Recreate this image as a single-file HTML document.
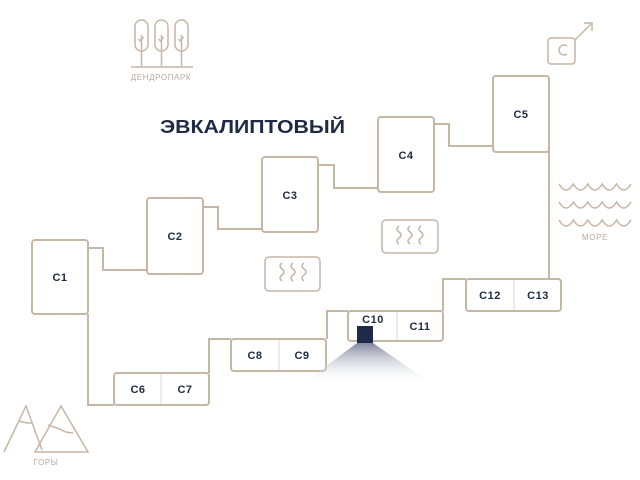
<!DOCTYPE html>
<html><head><meta charset="utf-8"><style>
html,body{margin:0;padding:0;background:#fff;}
svg{display:block;}
text{font-family:"Liberation Sans",sans-serif;}
</style></head><body>
<svg width="640" height="480" viewBox="0 0 640 480" xmlns="http://www.w3.org/2000/svg">
<defs>
<linearGradient id="cone" x1="0" y1="0" x2="0" y2="1">
<stop offset="0" stop-color="#7a8198" stop-opacity="0.95"/>
<stop offset="1" stop-color="#ffffff" stop-opacity="0"/>
</linearGradient>
</defs>
<g fill="none" stroke="#c6b6a6" stroke-width="2">
<polyline points="88,248 103,248 103,270 147,270"/>
<polyline points="203,207 218,207 218,229 262,229"/>
<polyline points="318,165 334,165 334,188 378,188"/>
<polyline points="434,124 449,124 449,146 493,146"/>
<polyline points="549,146 549,279"/>
<polyline points="466,279 443,279 443,311"/>
<polyline points="348,311 327,311 327,339"/>
<polyline points="231,339 209,339 209,373"/>
<polyline points="88,314 88,405 114,405"/>
<rect x="32" y="240" width="56" height="74" rx="3"/>
<rect x="147" y="198" width="56" height="76" rx="3"/>
<rect x="262" y="157" width="56" height="75" rx="3"/>
<rect x="378" y="117" width="56" height="75" rx="3"/>
<rect x="493" y="76" width="56" height="76" rx="3"/>
<rect x="114" y="373" width="95" height="32" rx="3"/>
<rect x="231" y="339" width="95" height="32" rx="3"/>
<rect x="348" y="311" width="95" height="30" rx="3"/>
<rect x="466" y="279" width="95" height="32" rx="3"/>
</g>
<g stroke="#e0d6cc" stroke-width="1">
<line x1="161" y1="374" x2="161" y2="404"/>
<line x1="279" y1="340" x2="279" y2="370"/>
<line x1="397" y1="312" x2="397" y2="340"/>
<line x1="514" y1="280" x2="514" y2="310"/>
</g>
<polygon points="357,343 373,343 432,384 302,384" fill="url(#cone)"/>
<rect x="357" y="326" width="16" height="17" fill="#1f2a48"/>
<g fill="#1f2a44" font-size="11" font-weight="bold" text-anchor="middle" letter-spacing="0.5">
<text x="60" y="281">C1</text>
<text x="175" y="240">C2</text>
<text x="290" y="199">C3</text>
<text x="406" y="159">C4</text>
<text x="521" y="118">C5</text>
<text x="138" y="393">C6</text>
<text x="185" y="393">C7</text>
<text x="255" y="359">C8</text>
<text x="302" y="359">C9</text>
<text x="373" y="323">C10</text>
<text x="420" y="330">C11</text>
<text x="490" y="299">C12</text>
<text x="538" y="299">C13</text>
</g>
<text x="160" y="133" fill="#1f2a44" font-size="18" font-weight="bold" textLength="185" lengthAdjust="spacingAndGlyphs">ЭВКАЛИПТОВЫЙ</text>
<g fill="none" stroke="#c6b6a6" stroke-width="1.5">
<rect x="265" y="257" width="55" height="34" rx="4"/>
<rect x="382" y="220" width="56" height="33" rx="4"/>
<path d="M282,263 q-4,3 0,6 q4,3 0,6 q-4,3 0,6 M293,263 q-4,3 0,6 q4,3 0,6 q-4,3 0,6 M304,263 q-4,3 0,6 q4,3 0,6 q-4,3 0,6"/>
<path d="M399,226 q-4,3 0,6 q4,3 0,6 q-4,3 0,6 M410,226 q-4,3 0,6 q4,3 0,6 q-4,3 0,6 M421,226 q-4,3 0,6 q4,3 0,6 q-4,3 0,6"/>
<rect x="135" y="20" width="13" height="31" rx="6.5"/>
<rect x="155" y="20" width="13" height="31" rx="6.5"/>
<rect x="175" y="20" width="13" height="31" rx="6.5"/>
<path d="M141.5,35 V66 M161.5,35 V66 M181.5,35 V66 M131,67 H193 M141.5,42 l-3,-3 M141.5,40 l2,-3 M161.5,42 l-3,-3 M161.5,40 l2,-3 M181.5,42 l-3,-3 M181.5,40 l2,-3"/>
<path d="M4,452 L26,406 L42,450 M35,452 L61,406 L88,452 Z M19,421 L27,423 L32,423 M48,425 L57,428 L66,432 L73,433"/>
<path d="M559,184 q7,12 14.4,0 q7,12 14.4,0 q7,12 14.4,0 q7,12 14.4,0 q7,12 14.4,0 M559,202 q7,12 14.4,0 q7,12 14.4,0 q7,12 14.4,0 q7,12 14.4,0 q7,12 14.4,0 M559,220 q7,12 14.4,0 q7,12 14.4,0 q7,12 14.4,0 q7,12 14.4,0 q7,12 14.4,0"/>
<rect x="548" y="38" width="27" height="26" rx="3"/>
<path d="M567,46 a5,5 0 1 0 0,8"/>
<path d="M575,40 L591,24 M584,23 H592 V31"/>
</g>
<g fill="#b8aa9c" font-size="8" text-anchor="middle" letter-spacing="0.6">
<text x="161" y="80">ДЕНДРОПАРК</text>
<text x="46" y="465">ГОРЫ</text>
<text x="595" y="240">МОРЕ</text>
</g>
</svg>
</body></html>
